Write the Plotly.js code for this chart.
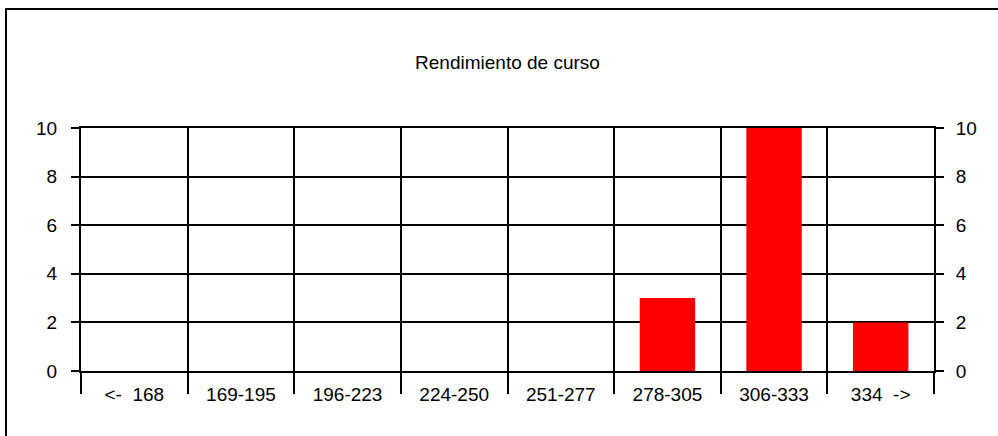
<!DOCTYPE html>
<html>
<head>
<meta charset="utf-8">
<script src="https://cdn.plot.ly/plotly-3.0.1.min.js"></script>
<style>
  html, body { margin: 0; padding: 0; background: #fff; }
  #wrap { position: relative; width: 998px; height: 436px; overflow: hidden; }
  #chart { position: absolute; left: 0; top: 0; width: 998px; height: 436px; }
  #frame { position: absolute; left: 5px; top: 8px; width: 1000px; height: 440px;
           border-left: 2px solid #000; border-top: 2px solid #000; pointer-events: none; }
</style>
</head>
<body>
<div id="wrap">
  <div id="chart"></div>
  <div id="frame"></div>
</div>
<script>
const categories = ["<-\u00a0\u00a0168", "169-195", "196-223", "224-250", "251-277", "278-305", "306-333", "334\u00a0\u00a0->"];
const counts = [0, 0, 0, 0, 0, 3, 10, 2];
const yTicks = [0, 2, 4, 6, 8, 10];
const chartTitle = "Rendimiento de curso";

const font = { family: "Liberation Sans, Arial, sans-serif", size: 19, color: "#000" };

const traces = [
  {
    type: "bar", x: categories, y: counts, width: 0.52,
    marker: { color: "#ff0000", line: { width: 0 } },
    hoverinfo: "skip", xaxis: "x", yaxis: "y"
  },
  {
    type: "bar", x: categories, y: counts, width: 0.52,
    marker: { color: "rgba(0,0,0,0)", line: { width: 0 } },
    hoverinfo: "skip", xaxis: "x", yaxis: "y2", showlegend: false
  }
];

const yCommon = {
  range: [0, 10], tickmode: "array", tickvals: yTicks, ticktext: yTicks.map(String),
  ticks: "outside", ticklen: 8, tickwidth: 2, tickcolor: "#000",
  showline: true, linecolor: "#000", linewidth: 2,
  zeroline: false, tickfont: font, fixedrange: true
};

const layout = {
  width: 998, height: 436,
  margin: { l: 81, r: 64, t: 128, b: 65, pad: 0 },
  paper_bgcolor: "#fff", plot_bgcolor: "#fff",
  showlegend: false, barmode: "overlay",
  font: font,
  title: {
    text: chartTitle, font: font,
    x: 0.5, xref: "paper", xanchor: "center",
    y: 1 - 62 / 436, yref: "container", yanchor: "middle"
  },
  xaxis: {
    type: "category", range: [-0.5, categories.length - 0.5],
    tickson: "boundaries", ticks: "outside", ticklen: 21, tickwidth: 2, tickcolor: "#000",
    showgrid: true, gridcolor: "#000", gridwidth: 2,
    showline: true, mirror: true, linecolor: "#000", linewidth: 2,
    zeroline: false, tickfont: font,
    ticklabelstandoff: 5, fixedrange: true
  },
  yaxis: Object.assign({}, yCommon, {
    side: "left", showgrid: true, gridcolor: "#000", gridwidth: 2,
    ticklabelstandoff: 10
  }),
  yaxis2: Object.assign({}, yCommon, {
    side: "right", overlaying: "y", showgrid: false,
    ticklabelstandoff: 8
  })
};

Plotly.newPlot("chart", traces, layout, { staticPlot: true, displayModeBar: false });
</script>
</body>
</html>
